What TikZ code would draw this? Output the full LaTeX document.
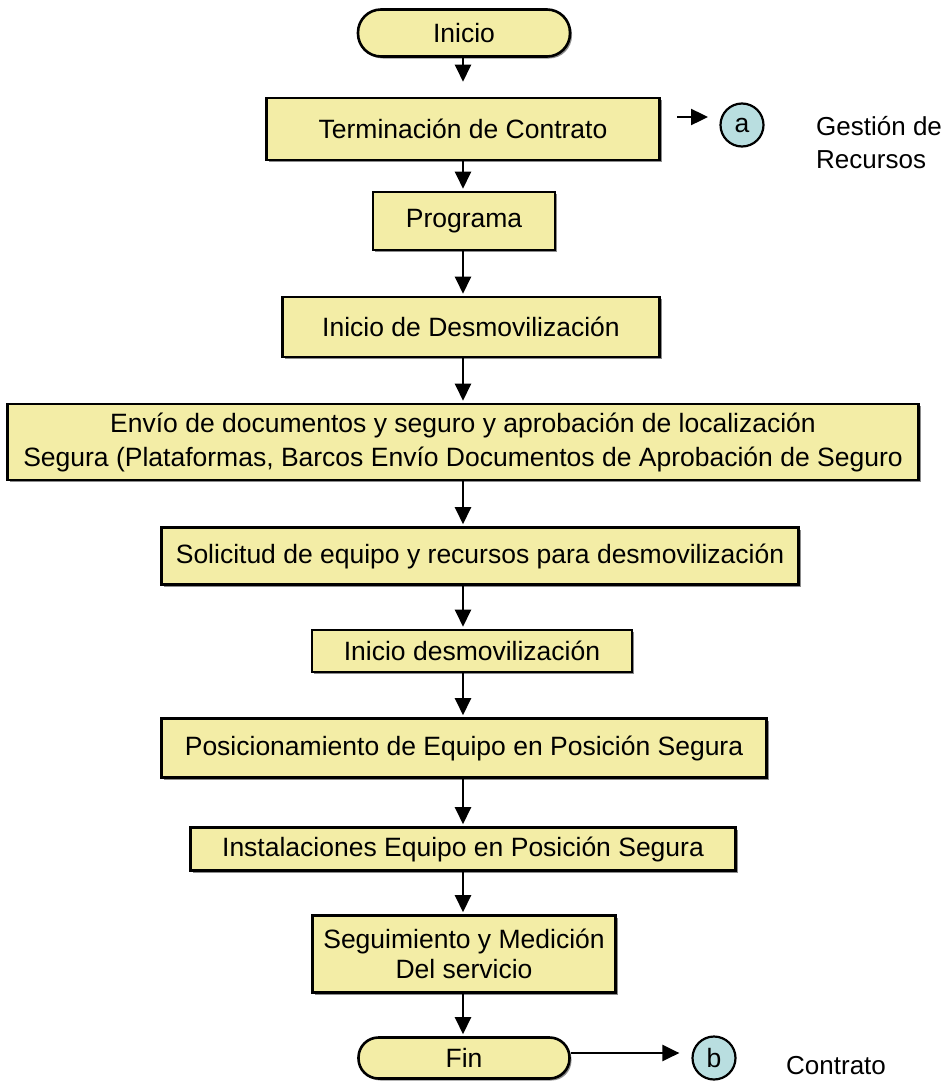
\documentclass[tikz,border=0pt]{standalone}
\usepackage{fontspec}
\setmainfont{Liberation Sans}
\usetikzlibrary{arrows.meta,shadows}
\definecolor{boxfill}{HTML}{F3EDA6}
\definecolor{circfill}{HTML}{B9DEE0}
\tikzset{
  base/.style={draw=black, line width=2.6pt, fill=boxfill, align=center, inner sep=0pt,
    font=\fontsize{26.5}{32}\selectfont,
    drop shadow={shadow xshift=2pt, shadow yshift=-2pt, fill=black!45, opacity=1}},
  procbox/.style={base, rectangle},
  termbox/.style={base, rectangle, rounded corners=21pt},
  conn/.style={draw=black, fill=circfill, circle, line width=2.2pt, minimum size=43pt, inner sep=0pt,
    font=\fontsize{26.5}{32}\selectfont},
  lbl/.style={font=\fontsize{26}{33}\selectfont, align=left, inner sep=0pt},
  arr/.style={line width=2.4pt, -{Triangle[width=16pt,length=17pt]}, shorten >=2pt},
}
\begin{document}
\begin{tikzpicture}[x=1pt,y=-1pt]
\useasboundingbox (0,0) rectangle (947,1082);
\coordinate (ax) at (463,0);

\node[termbox, minimum width=212pt, minimum height=47pt, rounded corners=23pt] (inicio) at (464,33) {Inicio};
\node[procbox, minimum width=393pt, minimum height=62pt] (term) at (463,129) {Terminación de Contrato};
\node[procbox, minimum width=182pt, minimum height=58pt] (prog) at (464,221) {Programa};
\node[procbox, minimum width=377pt, minimum height=60pt] (inid) at (471,327) {Inicio de Desmovilización};
\node[procbox, minimum width=911pt, minimum height=76pt, font=\fontsize{26.5}{34}\selectfont] (envio) at (463,442)
  {Envío de documentos y seguro y aprobación de localización\\Segura (Plataformas, Barcos Envío Documentos de Aprobación de Seguro};
\node[procbox, minimum width=637pt, minimum height=57pt] (solic) at (480,556) {Solicitud de equipo y recursos para desmovilización};
\node[procbox, minimum width=320pt, minimum height=42pt] (inid2) at (472,651) {Inicio desmovilización};
\node[procbox, minimum width=605pt, minimum height=59pt] (pos) at (464,748) {Posicionamiento de Equipo en Posición Segura};
\node[procbox, minimum width=303pt, minimum height=77pt, font=\fontsize{26.5}{30}\selectfont] (seg) at (464,954) {Seguimiento y Medición\\Del servicio};
\node[procbox, minimum width=545pt, minimum height=43pt] (inst) at (463,849) {Instalaciones Equipo en Posición Segura};
\node[termbox, minimum width=211pt, minimum height=41pt, rounded corners=20pt] (fin) at (464,1058) {Fin};

\node[conn] (ca) at (742,125) {a};
\node[conn] (cb) at (714,1058) {b};
\coordinate (astart) at (677,117);
\coordinate (aend) at (708,117);

\node[lbl, anchor=west] (gest) at (816,143) {Gestión de\\Recursos};
\node[lbl, anchor=west] (contr) at (786,1066) {Contrato};

\draw[arr, shorten >=15pt] (inicio.south -| ax) -- (term.north -| ax);
\draw[arr] (term.south -| ax) -- (prog.north -| ax);
\draw[arr] (prog.south -| ax) -- (inid.north -| ax);
\draw[arr] (inid.south -| ax) -- (envio.north -| ax);
\draw[arr] (envio.south -| ax) -- (solic.north -| ax);
\draw[arr] (solic.south -| ax) -- (inid2.north -| ax);
\draw[arr] (inid2.south -| ax) -- (pos.north -| ax);
\draw[arr] (pos.south -| ax) -- (inst.north -| ax);
\draw[arr] (inst.south -| ax) -- (seg.north -| ax);
\draw[arr] (seg.south -| ax) -- (fin.north -| ax);
\draw[arr, shorten >=0pt] (astart) -- (aend);
\draw[arr, shorten >=12pt] (fin.east) ++(0,-5) coordinate (fs) -- (fs -| cb.west);
\end{tikzpicture}
\end{document}
